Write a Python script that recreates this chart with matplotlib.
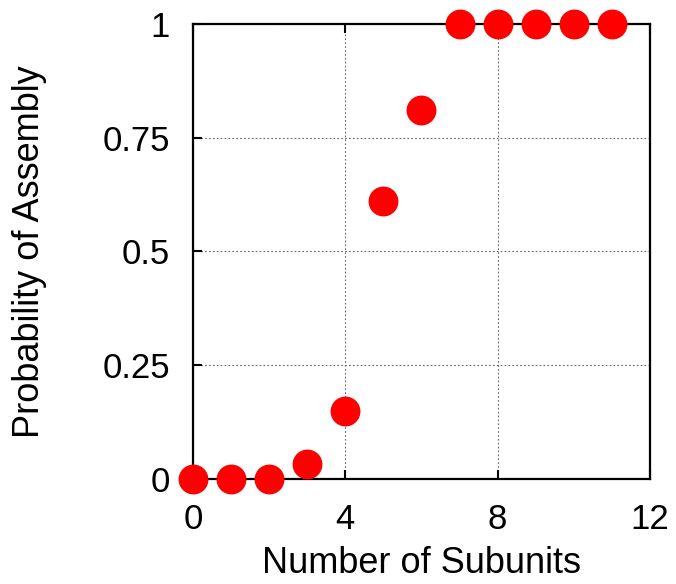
import numpy as np
import matplotlib
matplotlib.use("Agg")
import matplotlib.pyplot as plt

plt.rcParams['font.family'] = ['Liberation Sans', 'DejaVu Sans']

subunits = [0, 1, 2, 3, 4, 5, 6, 7, 8, 9, 10, 11]
prob = [0.0, 0.0, 0.0, 0.034, 0.15, 0.61, 0.81, 1.0, 1.0, 1.0, 1.0, 1.0]
xticks = [0, 4, 8, 12]
yticks = [0, 0.25, 0.5, 0.75, 1]
ytick_labels = ['0', '0.25', '0.5', '0.75', '1']

fig = plt.figure(figsize=(6.76, 5.84), dpi=100)
ax = fig.add_axes([0.2855, 0.1793, 0.9615 - 0.2855, 0.9594 - 0.1793])

ax.plot(subunits, prob, 'o', color='#ff0000', ms=20.5, clip_on=False, zorder=5)

ax.set_xlim(0, 12)
ax.set_ylim(0, 1)
ax.set_xticks(xticks)
ax.set_yticks(yticks)
ax.set_yticklabels(ytick_labels)
ax.grid(True, linestyle=(0, (1.5, 2)), color='#666666', linewidth=0.8)
ax.tick_params(direction='in', length=6.5, width=1.5, labelsize=25,
               top=True, right=False)
ax.tick_params(axis='x', pad=17)
ax.tick_params(axis='y', pad=16.5)
for s in ax.spines.values():
    s.set_linewidth(1.6)

ax.set_xlabel('Number of Subunits', fontsize=26, labelpad=7)
ax.set_ylabel('Probability of Assembly', fontsize=26, labelpad=40)

fig.savefig('out.png', dpi=100)
